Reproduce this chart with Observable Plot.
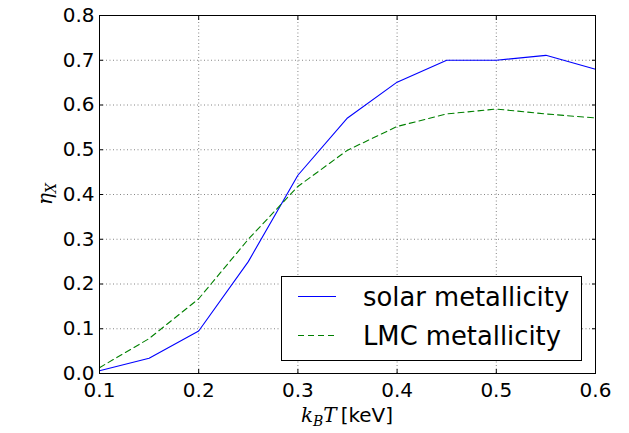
<!DOCTYPE html>
<html>
<head>
<meta charset="utf-8">
<script src="https://cdn.jsdelivr.net/npm/d3@7"></script>
<script src="https://cdn.jsdelivr.net/npm/@observablehq/plot@0.6"></script>
<style>
  html, body { margin: 0; padding: 0; background: #fff; }
  svg { display: block; }
</style>
</head>
<body>
<div id="chart"></div>
<script>
const temps = [0.1, 0.15, 0.2, 0.25, 0.3, 0.35, 0.4, 0.45, 0.5, 0.55, 0.6];
const solar = [0.006, 0.034, 0.095, 0.25, 0.443, 0.571, 0.651, 0.700, 0.700, 0.711, 0.680];
const lmc   = [0.013, 0.078, 0.167, 0.300, 0.418, 0.499, 0.552, 0.580, 0.591, 0.580, 0.571];
const seriesNames = ["solar metallicity", "LMC metallicity"];
const seriesColors = ["#0000ff", "#008000"];
const seriesDash = [null, "6,4"];
const xTicks = [0.1, 0.2, 0.3, 0.4, 0.5, 0.6];
const yTicks = [0.0, 0.1, 0.2, 0.3, 0.4, 0.5, 0.6, 0.7, 0.8];

const rows = [];
[solar, lmc].forEach((vals, s) => temps.forEach((t, i) => rows.push({series: seriesNames[s], t, v: vals[i]})));

const W = 629, H = 433;
const mL = 99, mR = 34, mT = 15, mB = 60;
const font = "DejaVu Sans, sans-serif";

const plot = Plot.plot({
  width: W, height: H,
  marginLeft: mL, marginRight: mR, marginTop: mT, marginBottom: mB,
  style: {fontFamily: font, background: "#fff", color: "#000"},
  x: {domain: [0.1, 0.6], label: null},
  y: {domain: [0, 0.8], label: null},
  marks: [
    Plot.gridX(xTicks, {stroke: "#666", strokeOpacity: 1, strokeWidth: 0.8, strokeDasharray: "1,2.5"}),
    Plot.gridY(yTicks, {stroke: "#666", strokeOpacity: 1, strokeWidth: 0.8, strokeDasharray: "1,2.5"}),
    Plot.axisX(xTicks, {anchor: "bottom", tickSize: 0, tickPadding: 9, fontSize: 20, tickFormat: d3.format(".1f")}),
    Plot.axisY(yTicks, {anchor: "left", tickSize: 0, tickPadding: 5, fontSize: 20, tickFormat: d3.format(".1f")}),
    Plot.axisX(xTicks, {anchor: "bottom", tickSize: -4, text: null}),
    Plot.axisX(xTicks, {anchor: "top", tickSize: -4, text: null}),
    Plot.axisY(yTicks, {anchor: "left", tickSize: -4, text: null}),
    Plot.axisY(yTicks, {anchor: "right", tickSize: -4, text: null}),
    Plot.line(rows.filter(d => d.series === seriesNames[0]), {x: "t", y: "v", stroke: seriesColors[0], strokeWidth: 1.1}),
    Plot.line(rows.filter(d => d.series === seriesNames[1]), {x: "t", y: "v", stroke: seriesColors[1], strokeWidth: 1.1, strokeDasharray: seriesDash[1]}),
    Plot.frame({stroke: "#000", strokeWidth: 1})
  ]
});

const svg = d3.select(plot);

// Legend
const lg = svg.append("g");
lg.append("rect").attr("x", 281.5).attr("y", 276.5).attr("width", 300).attr("height", 84)
  .attr("fill", "#fff").attr("stroke", "#000").attr("stroke-width", 1);
seriesNames.forEach((name, i) => {
  const cy = 296.5 + i * 39;
  lg.append("line").attr("x1", 298).attr("x2", 336).attr("y1", cy).attr("y2", cy)
    .attr("stroke", seriesColors[i]).attr("stroke-width", 1.1)
    .attr("stroke-dasharray", seriesDash[i]);
  lg.append("text").attr("x", 363).attr("y", cy).attr("dy", "0.36em")
    .attr("text-anchor", "start")
    .attr("font-family", font).attr("font-size", 25.8).attr("fill", "#000").text(name);
});

// X label
const xl = svg.append("text").attr("x", (mL + W - mR) / 2).attr("y", 422)
  .attr("text-anchor", "middle").attr("font-size", 20).attr("fill", "#000");
xl.append("tspan").attr("font-family", "DejaVu Serif, serif").attr("font-style", "italic").text("k");
xl.append("tspan").attr("font-family", "DejaVu Serif, serif").attr("font-style", "italic").attr("font-size", 14).attr("dy", 4).text("B");
xl.append("tspan").attr("font-family", "DejaVu Serif, serif").attr("font-style", "italic").attr("dy", -4).text("T");
xl.append("tspan").attr("font-family", font).attr("dx", 4).text("[keV]");

// Y label
const yl = svg.append("text").attr("transform", `translate(52,${(mT + H - mB) / 2}) rotate(-90)`)
  .attr("text-anchor", "middle").attr("font-size", 20).attr("fill", "#000")
  .attr("font-family", "DejaVu Serif, serif").attr("font-style", "italic");
yl.append("tspan").text("η");
yl.append("tspan").attr("font-size", 14).attr("dy", 4).text("X");

document.getElementById("chart").appendChild(plot);
</script>
</body>
</html>
